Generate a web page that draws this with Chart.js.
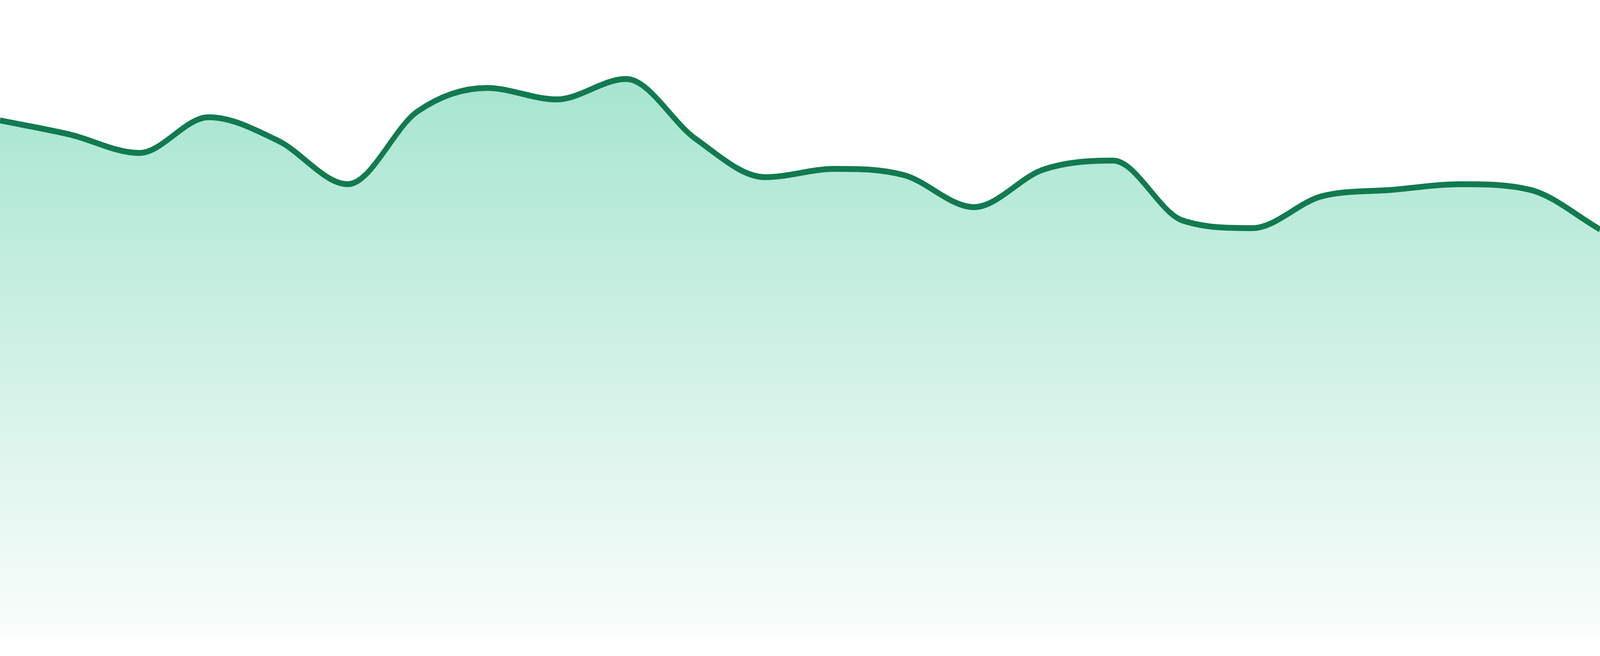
<!DOCTYPE html>
<html>
<head>
<meta charset="utf-8">
<script src="https://cdn.jsdelivr.net/npm/chart.js@4/dist/chart.umd.min.js"></script>
<style>
  html, body { margin: 0; padding: 0; background: #fff; overflow: hidden; }
  canvas { display: block; }
</style>
</head>
<body>
<!-- drawn at the reference size (4800x1680) and stretched to whatever the window is -->
<canvas id="trendChart" width="4800" height="1680" style="width:100vw;height:100vh"></canvas>
<script>
// 24 samples, no axes shown on the original
const labels = [
  "1", "2", "3", "4", "5", "6", "7", "8", "9", "10", "11", "12",
  "13", "14", "15", "16", "17", "18", "19", "20", "21", "22", "23", "24"
];
const values = [
  81.1, 78.9, 76.0, 81.6, 77.9, 71.1, 82.5, 86.2, 84.4, 87.6, 78.2, 72.2,
  73.5, 72.5, 67.5, 73.4, 74.8, 65.4, 64.2, 69.2, 70.2, 71.1, 70.2, 64.0
];
const yMin = 0;
const yMax = 100;

const ctx = document.getElementById("trendChart");

// vertical fade from green to almost white at the baseline
function areaFill(context) {
  const area = context.chart.chartArea;
  if (!area) return "rgba(16,185,129,0.3)";
  const g = context.chart.ctx.createLinearGradient(0, area.top, 0, area.bottom);
  g.addColorStop(0, "rgba(16,185,129,0.42)");
  g.addColorStop(1, "rgba(16,185,129,0.02)");
  return g;
}

new Chart(ctx, {
  type: "line",
  data: {
    labels: labels,
    datasets: [{
      data: values,
      borderColor: "#127a50",
      borderWidth: 15,
      backgroundColor: areaFill,
      fill: "origin",
      pointRadius: 0,
      cubicInterpolationMode: "monotone"
    }]
  },
  options: {
    responsive: false,
    animation: false,
    devicePixelRatio: 1,
    layout: { padding: { top: 0, left: 0, right: 0, bottom: 48 } },
    plugins: { legend: { display: false }, tooltip: { enabled: false } },
    scales: {
      x: { display: false, offset: false },
      y: { display: false, min: yMin, max: yMax }
    }
  }
});
</script>
</body>
</html>
